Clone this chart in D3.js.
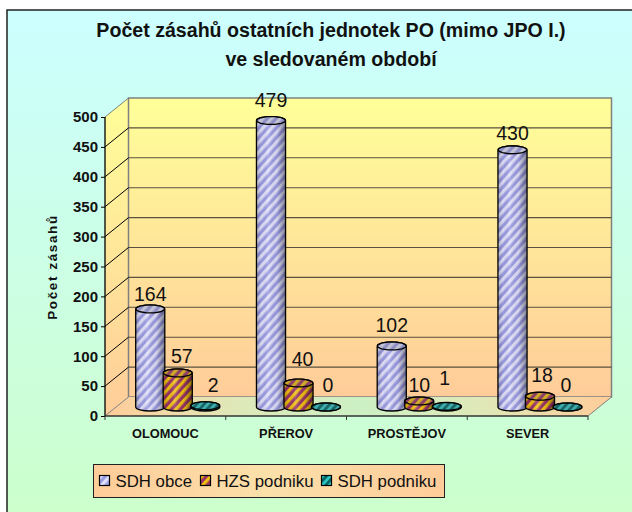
<!DOCTYPE html>
<html>
<head>
<meta charset="utf-8">
<script src="https://cdn.jsdelivr.net/npm/d3@7"></script>
<style>
   html, body { margin: 0; padding: 0; background: #fff; }
   svg { display: block; font-family: "Liberation Sans", Arial, sans-serif; }
</style>
</head>
<body>
<div id="chart"></div>
<script>
// values
const categories = ["OLOMOUC", "PŘEROV", "PROSTĚJOV", "SEVER"];
const seriesNames = ["SDH obce", "HZS podniku", "SDH podniku"];
const sdhObce = [164, 479, 102, 430];
const hzsPodniku = [57, 40, 10, 18];
const sdhPodniku = [2, 0, 1, 0];
const yTicks = [0, 50, 100, 150, 200, 250, 300, 350, 400, 450, 500];
const titleLines = ["Počet zásahů ostatních jednotek PO (mimo JPO I.)", "ve sledovaném období"];
const yTitle = "Počet zásahů";

// size of the svg
const w = 632;
const h = 512;

// plot box of the front plane, depth goes up and to the right
const plotLeft = 105, plotRight = 588, plotTop = 117, plotBottom = 416;
const depthX = 23.5, depthY = 19;

const series = [sdhObce, hzsPodniku, sdhPodniku];
const barFill = ["url(#hatchBlue)", "url(#hatchOrange)", "url(#hatchTeal)"];

// data labels were hand placed in the original, [dx, dy] from the bar top
const labelNudge = [
   [[0, -8], [4, -10], [8, -14]],
   [[0, -14], [4, -17], [2, -15]],
   [[0, -14], [0, -9], [-2, -21]],
   [[0, -10], [2, -14], [-1.5, -15]]
];

const xScale = d3.scaleBand().domain(categories).range([plotLeft, plotRight]);
const barScale = d3.scaleBand().domain(d3.range(3)).range([0, 82.5]);
const yScale = d3.scaleLinear().domain([0, 500]).range([plotBottom, plotTop]);

const svg = d3.select("#chart").append("svg")
   .attr("width", w)
   .attr("height", h);

const defs = svg.append("defs");

function gradient(id, stops, vertical) {
   const g = defs.append("linearGradient").attr("id", id)
      .attr("x1", 0).attr("y1", 0)
      .attr("x2", vertical ? 0 : 1).attr("y2", vertical ? 1 : 0);
   stops.forEach((s) => g.append("stop").attr("offset", s[0]).attr("stop-color", s[1]).attr("stop-opacity", s[2] === undefined ? 1 : s[2]));
}

function hatch(id, a, b, size) {
   const p = defs.append("pattern").attr("id", id)
      .attr("patternUnits", "userSpaceOnUse")
      .attr("width", size).attr("height", size)
      .attr("patternTransform", "rotate(-48)");
   p.append("rect").attr("width", size).attr("height", size).attr("fill", a);
   p.append("rect").attr("width", size).attr("height", size / 2).attr("fill", b);
}

gradient("pageBg", [[0, "#ccffff"], [1, "#ccffcc"]], true);
gradient("wallBg", [[0, "#ffff99"], [1, "#ffcc99"]], true);
gradient("floorBg", [[0, "#ffcc99"], [0.25, "#e0e8b8"], [0.5, "#ccf0c4"], [0.75, "#e0e8b8"], [1, "#ffcc99"]], false);
gradient("legendBg", [[0, "#ffcc99"], [0.5, "#fbe0aa"], [1, "#ffcc99"]], false);
gradient("cylShade", [[0, "#000", 0.22], [0.18, "#000", 0.03], [0.4, "#fff", 0.15], [0.7, "#000", 0.05], [1, "#000", 0.42]], false);
hatch("hatchBlue", "#9c9ce4", "#e0e0fa", 6.5);
hatch("hatchOrange", "#993366", "#f0c010", 6.5);
hatch("hatchTeal", "#006666", "#2fc4c4", 5.5);

// background, the frame only shows on the top and left
svg.append("rect")
   .attr("x", 7).attr("y", 10)
   .attr("width", w - 7).attr("height", h - 10)
   .attr("fill", "url(#pageBg)");
svg.append("path")
   .attr("d", d3.line()([[7, h], [7, 10], [w, 10]]))
   .attr("fill", "none")
   .attr("stroke", "#222")
   .attr("stroke-width", 1.5);

// walls and floor
const line = d3.line();
svg.append("path")
   .attr("d", line([[plotLeft, plotTop], [plotLeft + depthX, plotTop - depthY], [plotLeft + depthX, plotBottom - depthY], [plotLeft, plotBottom]]) + "Z")
   .attr("fill", "url(#wallBg)")
   .attr("stroke", "none");
svg.append("rect")
   .attr("x", plotLeft + depthX).attr("y", plotTop - depthY)
   .attr("width", plotRight - plotLeft).attr("height", plotBottom - plotTop)
   .attr("fill", "url(#wallBg)")
   .attr("stroke", "#808080")
   .attr("stroke-width", 1.5);
svg.append("path")
   .attr("d", line([[plotLeft, plotBottom], [plotLeft + depthX, plotBottom - depthY], [plotRight + depthX, plotBottom - depthY], [plotRight, plotBottom]]) + "Z")
   .attr("fill", "url(#floorBg)");

// gridlines
const gridTicks = yTicks.filter((d) => d > 0 && d < 500);
svg.append("g").selectAll("line")
   .data(gridTicks)
   .enter()
   .append("line")
   .attr("x1", plotLeft + depthX)
   .attr("x2", plotRight + depthX)
   .attr("y1", (d) => yScale(d) - depthY)
   .attr("y2", (d) => yScale(d) - depthY)
   .attr("stroke", "#5a5040")
   .attr("stroke-width", 1.1);
svg.append("g").selectAll("path")
   .data(yTicks)
   .enter()
   .append("path")
   .attr("d", (d) => line([[plotLeft, yScale(d)], [plotLeft + depthX, yScale(d) - depthY]]))
   .attr("stroke", (d) => (d === 0 || d === 500) ? "#808080" : "#000")
   .attr("fill", "none");
svg.append("path")
   .attr("d", line([[plotRight, plotBottom], [plotRight + depthX, plotBottom - depthY]]))
   .attr("stroke", "#808080")
   .attr("fill", "none");

// axes
const yAxis = d3.axisLeft(yScale).tickValues(yTicks).tickSize(4).tickPadding(3);
const gy = svg.append("g").attr("transform", `translate(${plotLeft},0)`).call(yAxis);
gy.selectAll("text").attr("font-size", 15).attr("font-weight", "bold").attr("fill", "#111");
gy.select(".domain").attr("d", line([[0, plotTop], [0, plotBottom]])).attr("stroke", "#000").attr("stroke-width", 1.3);

const xAxis = d3.axisBottom(xScale).tickSize(0).tickPadding(13);
const gx = svg.append("g").attr("transform", `translate(0,${plotBottom})`).call(xAxis);
gx.selectAll("text").attr("font-size", 12.8).attr("font-weight", "bold").attr("fill", "#111");
gx.select(".domain").attr("d", line([[plotLeft, 0], [plotRight, 0]])).attr("stroke", "#333").attr("stroke-width", 1.6);
gx.selectAll(".boundary")
   .data(d3.range(5))
   .enter()
   .append("line")
   .attr("class", "boundary")
   .attr("x1", (i) => plotLeft + i * xScale.step())
   .attr("x2", (i) => plotLeft + i * xScale.step())
   .attr("y1", 0)
   .attr("y2", 4)
   .attr("stroke", "#333");

// cylinders, the cap is a faceted ring like the original
const barsX = 31.5;
const baseY = plotBottom - 9;
const rx = barScale.bandwidth() / 2 + 0.8;
const ry = 4;
const capAngles = d3.range(12).map((i) => i / 12 * 2 * Math.PI + 0.26);
const capPath = (cx, cy) => line(capAngles.map((a) => [cx + rx * Math.cos(a), cy + ry * Math.sin(a)])) + "Z";

categories.forEach((cat, c) => {
   const g = svg.append("g");
   series.forEach((vals, s) => {
      const v = vals[c];
      const cx = xScale(cat) + barsX + barScale(s) + barScale.bandwidth() / 2;
      const yTop = baseY - (plotBottom - yScale(v));

      const body = `M${cx - rx},${yTop}L${cx - rx},${baseY}A${rx},${ry} 0 0 0 ${cx + rx},${baseY}L${cx + rx},${yTop}A${rx},${ry} 0 0 0 ${cx - rx},${yTop}Z`;
      g.append("path").attr("d", body).attr("fill", barFill[s]);
      g.append("path").attr("d", body).attr("fill", "url(#cylShade)").attr("stroke", "#000").attr("stroke-width", 1.3);
      g.append("path").attr("d", capPath(cx, yTop)).attr("fill", barFill[s]);
      g.append("path")
         .attr("d", capPath(cx, yTop))
         .attr("fill", "#666")
         .attr("fill-opacity", 0.25)
         .attr("stroke", "#000")
         .attr("stroke-width", 1.3);
   });
});

// data labels on top of everything
categories.forEach((cat, c) => {
   series.forEach((vals, s) => {
      const v = vals[c];
      const cx = xScale(cat) + barsX + barScale(s) + barScale.bandwidth() / 2;
      const yTop = baseY - (plotBottom - yScale(v));
      svg.append("text")
         .attr("x", cx + labelNudge[c][s][0])
         .attr("y", yTop + labelNudge[c][s][1])
         .attr("text-anchor", "middle")
         .attr("font-size", 19.5)
         .attr("fill", "#111")
         .text(v);
   });
});

// titles
svg.append("g").selectAll("text")
   .data(titleLines)
   .enter()
   .append("text")
   .attr("x", 331)
   .attr("y", (d, i) => 37 + i * 29)
   .attr("text-anchor", "middle")
   .attr("font-size", 19.6)
   .attr("font-weight", "bold")
   .attr("fill", "#111")
   .text((d) => d);

svg.append("text")
   .attr("transform", "translate(57,267) rotate(-90)")
   .attr("text-anchor", "middle")
   .attr("font-size", 13.5)
   .attr("font-weight", "bold")
   .attr("letter-spacing", 1.6)
   .attr("fill", "#111")
   .text(yTitle);

// legend
svg.append("rect")
   .attr("x", 93.5).attr("y", 464.5)
   .attr("width", 351).attr("height", 33)
   .attr("fill", "url(#legendBg)")
   .attr("stroke", "#222");

const legendX = [99.5, 200.5, 321.5];
const legend = svg.append("g").selectAll("g")
   .data(seriesNames)
   .enter()
   .append("g")
   .attr("transform", (d, i) => `translate(${legendX[i]},475.5)`);
legend.append("rect")
   .attr("width", 10).attr("height", 10)
   .attr("fill", (d, i) => barFill[i])
   .attr("stroke", "#000")
   .attr("stroke-width", 1.2);
legend.append("text")
   .attr("x", 16)
   .attr("y", 11)
   .attr("font-size", 16.8)
   .attr("fill", "#111")
   .text((d) => d);
</script>
</body>
</html>
